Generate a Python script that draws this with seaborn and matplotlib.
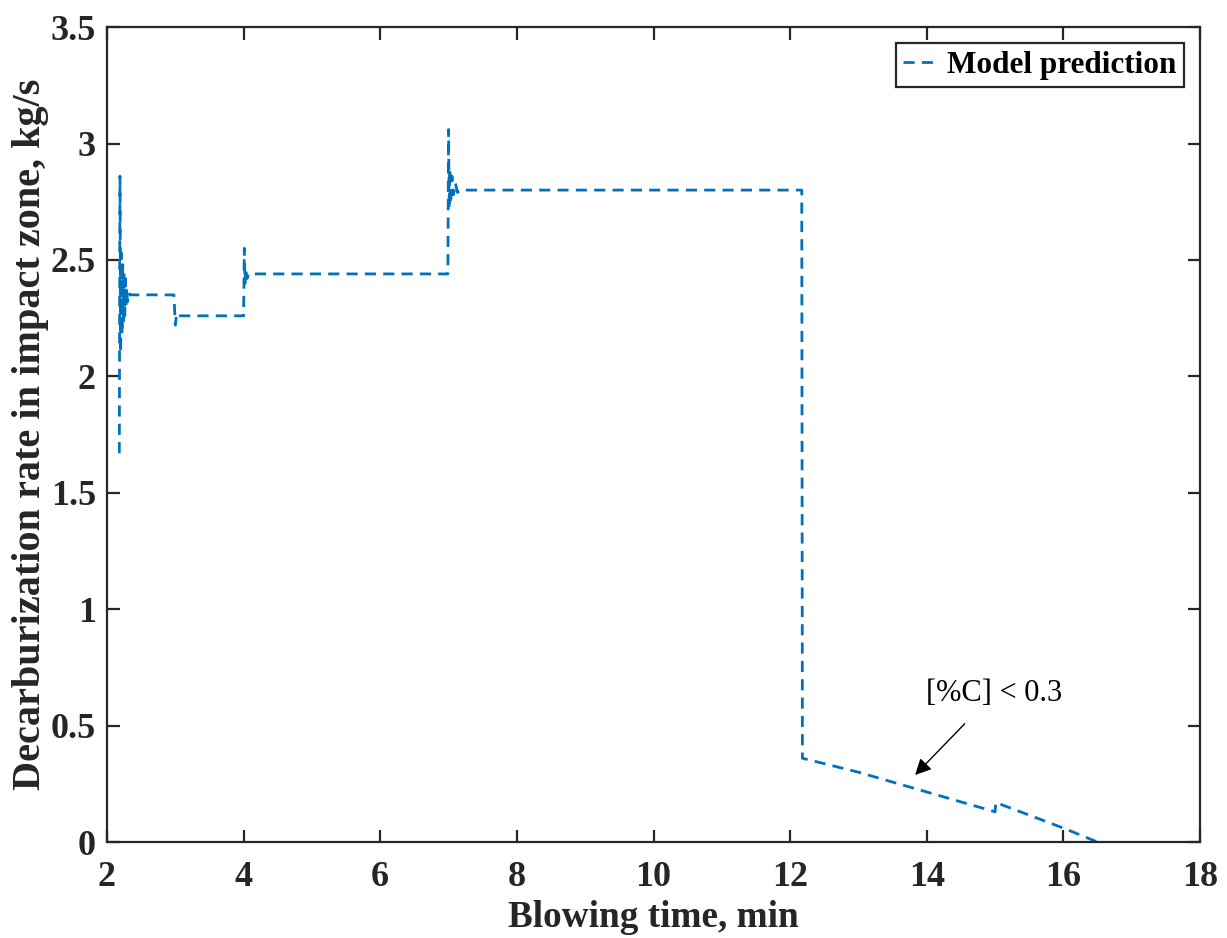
import matplotlib
matplotlib.use("Agg")
import matplotlib.pyplot as plt
import seaborn as sns
import pandas as pd

# Data (blowing time in min, rate in kg/s)
time_min = [2.18, 2.19, 2.20, 2.21, 2.22, 2.23, 2.24, 2.25, 2.26, 2.27, 2.28,
            2.29, 2.30, 2.32, 2.34,
            2.98, 3.00, 3.02, 3.04,
            4.00, 4.01, 4.02, 4.03, 4.05, 4.07,
            6.99, 7.00, 7.01, 7.02, 7.03, 7.05, 7.07, 7.10, 7.13, 7.17,
            12.17, 12.18,
            13.0, 14.0, 15.0, 15.01, 16.0, 16.5]
rate_kgs = [1.67, 2.86, 2.10, 2.53, 2.18, 2.48, 2.22, 2.45, 2.26, 2.42, 2.30,
            2.38, 2.32, 2.36, 2.35,
            2.35, 2.22, 2.27, 2.26,
            2.26, 2.55, 2.40, 2.46, 2.42, 2.44,
            2.44, 3.06, 2.72, 2.89, 2.74, 2.86, 2.78, 2.83, 2.79, 2.80,
            2.80, 0.36,
            0.30, 0.215, 0.13, 0.17, 0.06, 0.0]

x_ticks = [2, 4, 6, 8, 10, 12, 14, 16, 18]
y_ticks = [0, 0.5, 1, 1.5, 2, 2.5, 3, 3.5]
y_tick_labels = ["0", "0.5", "1", "1.5", "2", "2.5", "3", "3.5"]

df = pd.DataFrame({"t": time_min, "r": rate_kgs})

sns.set_theme(style="white")
plt.rcParams["font.family"] = ["Liberation Serif", "DejaVu Serif"]

fig = plt.figure(figsize=(12.27, 9.38), dpi=100)
ax = fig.add_axes([0.0872, 0.1023, 0.8908, 0.8688])

blue = "#0072BD"
dash_pat = (4, 2.6)
sns.lineplot(data=df, x="t", y="r", sort=False, estimator=None, ax=ax,
             color=blue, linewidth=2.0, dashes=False, label="Model prediction")
ax.lines[0].set_dashes(dash_pat)

ax.set_xlim(2, 18)
ax.set_ylim(0, 3.5)
ax.set_xticks(x_ticks)
ax.set_yticks(y_ticks)
ax.set_yticklabels(y_tick_labels)

dark = "#262626"
for s in ax.spines.values():
    s.set_visible(True)
    s.set_color(dark)
    s.set_linewidth(1.6)
ax.tick_params(axis="both", which="both", direction="in", length=9, width=1.6,
               top=True, right=True, bottom=True, left=True,
               labelsize=26, colors=dark)
ax.tick_params(axis="x", pad=14)
ax.tick_params(axis="y", pad=8)
for lab in ax.get_xticklabels() + ax.get_yticklabels():
    lab.set_fontweight("bold")
    lab.set_color(dark)

ax.set_xlabel("Blowing time, min", fontsize=26.8, fontweight="bold", color=dark, labelpad=4)
ax.set_ylabel("Decarburization rate in impact zone, kg/s", fontsize=29,
              fontweight="bold", color=dark, labelpad=1)

leg = ax.legend(loc="upper right", frameon=True, fancybox=False,
                handlelength=1.0, borderpad=0.25, handletextpad=0.4,
                borderaxespad=0.5, prop={"weight": "bold", "size": 22.5})
leg.get_frame().set_edgecolor(dark)
leg.get_frame().set_linewidth(1.6)
leg.get_frame().set_alpha(1)
leg.get_lines()[0].set_dashes(dash_pat)
for t in leg.get_texts():
    t.set_color("black")

ax.annotate("[%C] < 0.3", xy=(13.83, 0.288), xytext=(14.99, 0.64),
            fontsize=22, ha="center", va="center", color="black",
            arrowprops=dict(arrowstyle="-|>", color="black", lw=1.0,
                            mutation_scale=24, shrinkA=13, shrinkB=0))

fig.savefig("out.png", dpi=100, facecolor="white")
